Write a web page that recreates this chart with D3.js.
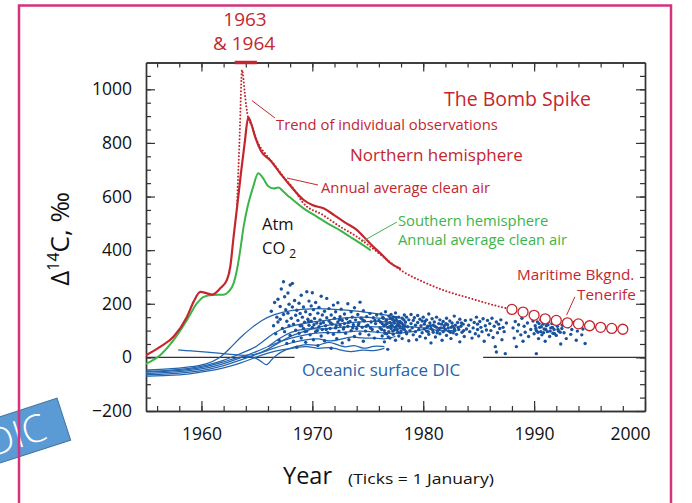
<!DOCTYPE html>
<html><head><meta charset="utf-8">
<script src="https://cdn.jsdelivr.net/npm/d3@7"></script>
<style>
html,body{margin:0;padding:0;background:#fff;}
svg{display:block;font-family:"Open Sans","Noto Sans",sans-serif;}
</style></head><body>
<svg id="chart" width="692" height="503"></svg>
<script>
// Δ14C of atmospheric CO2 and ocean surface DIC, 1955–2000

// Northern hemisphere, annual average clean air [year, Δ14C ‰]
const nhAnnual = [[1955,8],[1956.3,40],[1957.5,78],[1958.7,152],[1959.3,208],[1959.9,244],[1960.5,239],[1960.95,234],[1961.7,258],[1962.3,289],[1962.6,338],[1962.9,450],[1963.2,556],[1963.6,700],[1963.9,800],[1964.22,895],[1964.5,870],[1964.85,822],[1965.4,768],[1966.2,735],[1967.1,687],[1968,641],[1969.2,588],[1970,568],[1971,556],[1972,530],[1973,502],[1974,476],[1975,434],[1975.5,413],[1976.3,382],[1977,353],[1977.9,332]];

// Southern hemisphere, annual average clean air
const shAnnual = [[1955,-24],[1956.3,9],[1957.5,65],[1958.7,140],[1959.6,202],[1960.2,226],[1961,233],[1962,234],[1962.45,245],[1962.9,276],[1963.2,326],[1963.5,400],[1963.8,487],[1964.15,560],[1964.67,637],[1965.12,687],[1965.57,668],[1966.03,638],[1966.5,630],[1966.95,634],[1967.4,618],[1968,596],[1969.2,556],[1970.4,525],[1971.6,494],[1972.5,474],[1973.4,450],[1974.3,426],[1975.2,401]];

// Trend of individual observations (northern hemisphere)
const nhTrend = [[1963.2,560],[1963.45,830],[1963.66,1072],[1963.9,990],[1964.05,935],[1964.22,893],[1964.53,867],[1964.98,811],[1965.73,761],[1966.48,724],[1967.38,674],[1968.28,631],[1969.16,577],[1970.96,531],[1972.5,488],[1974.03,450],[1975.83,394],[1978.17,320],[1979.98,282],[1982.14,246],[1983.94,224],[1986.92,189],[1988,179]];

// Maritime background, Tenerife
const tenerifeYears = [1988,1989,1990,1991,1992,1993,1994,1995,1996,1997,1998];
const tenerifeValues = [179,169,157,144,138,129,125,118,112,108,105];

// Ocean surface DIC records (individual coral / site series)
const oceanLines = [
  [[1955,-47],[1957,-44],[1959,-36],[1960.5,-25],[1961.5,-8],[1962.5,30],[1963.5,75],[1964.5,110],[1965.5,140],[1966.5,160],[1968,176],[1970,183],[1972,180],[1974,174],[1976,162],[1977.8,150]],
  [[1957.9,28],[1959,24],[1960.5,20],[1962,14],[1963.5,6],[1965,10],[1966,30],[1967,55],[1968,80],[1969.5,100],[1971,118],[1972.5,126],[1974,132],[1975.5,136],[1977,131],[1978.5,124]],
  [[1955,-55],[1957,-52],[1959,-46],[1960.5,-34],[1962,-18],[1963,-2],[1964,6],[1964.8,2],[1965.5,-18],[1965.9,-34],[1966.3,-8],[1966.8,10],[1967.5,28],[1968.5,40],[1969.5,52],[1970.5,40],[1971.3,60],[1972,52],[1973,34],[1973.8,50],[1974.6,28],[1975.5,44],[1976.5,40]],
  [[1955,-60],[1957,-57],[1959,-50],[1960.5,-40],[1962,-24],[1963.5,-2],[1965,22],[1966.5,50],[1968,72],[1969.5,86],[1971,94],[1972.5,90],[1974,100],[1975.5,96],[1977,88],[1978.5,92],[1980,104]],
  [[1955,-65],[1957,-62],[1959,-56],[1960.5,-46],[1962,-32],[1963.5,-10],[1965,12],[1966.5,34],[1968,54],[1969.5,66],[1970.5,72],[1971.5,58],[1972.5,66],[1973.5,80],[1974.5,70],[1975.5,74],[1976.5,66],[1977.5,78]],
  [[1955,-52],[1957,-49],[1959,-42],[1960.5,-30],[1962,-12],[1963,5],[1964,22],[1965,40],[1966,75],[1967,104],[1968.5,122],[1970,132],[1971.5,140],[1973,148],[1974.5,152],[1976,146],[1977.5,140]],
  [[1955,-70],[1957,-68],[1959,-62],[1960.5,-52],[1962,-40],[1963.5,-22],[1964.5,-6],[1965.5,10],[1966.5,22],[1967.5,30],[1968.5,36],[1969.5,44],[1970.5,30],[1971.5,40],[1972.5,28],[1973.5,18],[1974.5,30],[1975.5,22],[1976.5,34]],
  [[1966,40],[1967,70],[1968,95],[1969.5,110],[1971,104],[1972.5,112],[1974,118],[1976,112],[1978,116],[1980,112],[1981.5,96],[1983,102]]
];

// Individual ocean surface DIC measurements [year, Δ14C ‰]
const oceanDots = [
  [1966.3,172],[1966.5,118],[1966.6,205],[1966.7,88],[1966.8,150],[1966.9,217],[1966.9,132],
  [1967.0,64],[1967.1,190],[1967.1,142],[1967.2,255],[1967.3,108],[1967.4,282],[1967.4,160],[1967.5,226],[1967.5,96],[1967.6,178],[1967.7,135],[1967.7,52],[1967.8,240],[1967.8,165],[1967.9,118],[1967.9,198],
  [1968.0,270],[1968.0,82],[1968.1,146],[1968.2,276],[1968.2,188],[1968.3,124],[1968.3,60],[1968.4,212],[1968.5,157],[1968.5,101],[1968.6,176],[1968.6,38],[1968.7,138],[1968.8,202],[1968.8,90],[1968.9,164],[1968.9,118],
  [1969.0,232],[1969.0,72],[1969.05,118],[1969.1,150],[1969.2,108],[1969.2,188],[1969.3,131],[1969.35,96],[1969.4,56],[1969.4,170],[1969.5,245],[1969.5,98],[1969.6,142],[1969.65,134],[1969.7,210],[1969.7,120],[1969.8,84],[1969.8,160],[1969.9,135],[1969.9,192],
  [1970.0,241],[1970.0,112],[1970.1,66],[1970.1,178],[1970.15,122],[1970.2,145],[1970.3,96],[1970.3,205],[1970.4,128],[1970.45,100],[1970.5,165],[1970.5,44],[1970.6,114],[1970.6,186],[1970.7,140],[1970.75,126],[1970.8,80],[1970.8,228],[1970.9,158],[1970.9,104],
  [1971.0,130],[1971.1,172],[1971.1,62],[1971.2,118],[1971.25,104],[1971.3,220],[1971.3,148],[1971.4,92],[1971.5,136],[1971.5,182],[1971.6,108],[1971.65,128],[1971.7,158],[1971.7,34],[1971.8,124],[1971.9,195],[1971.9,86],
  [1972.0,146],[1972.1,110],[1972.1,170],[1972.15,118],[1972.2,70],[1972.3,132],[1972.3,204],[1972.4,98],[1972.45,140],[1972.5,152],[1972.5,120],[1972.6,180],[1972.7,54],[1972.7,138],[1972.8,106],[1972.85,112],[1972.9,162],[1972.9,126],
  [1973.0,90],[1973.1,144],[1973.2,200],[1973.2,116],[1973.25,130],[1973.3,66],[1973.4,134],[1973.5,170],[1973.5,100],[1973.6,150],[1973.65,110],[1973.7,122],[1973.8,78],[1973.8,185],[1973.9,140],
  [1974.0,108],[1974.1,160],[1974.15,122],[1974.2,128],[1974.3,206],[1974.3,88],[1974.4,146],[1974.5,112],[1974.55,140],[1974.6,174],[1974.6,60],[1974.7,136],[1974.8,98],[1974.85,116],[1974.9,152],
  [1975.0,120],[1975.1,84],[1975.2,164],[1975.25,110],[1975.3,132],[1975.4,104],[1975.5,148],[1975.6,72],[1975.65,138],[1975.7,126],[1975.8,158],[1975.9,96],
  [1976.0,138],[1976.1,110],[1976.15,132],[1976.2,162],[1976.25,104],[1976.3,80],[1976.3,126],[1976.35,150],[1976.4,146],[1976.45,118],[1976.5,100],[1976.5,58],[1976.55,90],[1976.6,170],[1976.6,122],[1976.65,136],[1976.7,88],[1976.7,140],[1976.75,126],[1976.8,112],[1976.8,30],[1976.85,76],[1976.9,154],[1976.9,96],[1976.95,114],
  [1977.0,130],[1977.0,72],[1977.05,146],[1977.1,160],[1977.1,108],[1977.15,122],[1977.2,142],[1977.2,118],[1977.25,98],[1977.3,86],[1977.3,150],[1977.35,136],[1977.4,102],[1977.4,128],[1977.45,112],[1977.5,64],[1977.5,166],[1977.55,148],[1977.6,116],[1977.6,138],[1977.65,104],[1977.7,94],[1977.7,124],[1977.75,132],[1977.8,150],[1977.8,80],[1977.85,118],[1977.9,110],[1977.9,134],[1977.95,92],
  [1978.0,98],[1978.05,128],[1978.1,146],[1978.1,70],[1978.15,108],[1978.2,120],[1978.25,140],[1978.3,158],[1978.3,104],[1978.35,116],[1978.4,132],[1978.45,96],[1978.5,88],[1978.5,150],[1978.6,114],[1978.7,62],[1978.7,140],[1978.8,100],[1978.9,126],[1978.9,160],
  [1979.0,110],[1979.1,84],[1979.1,138],[1979.2,148],[1979.3,96],[1979.3,120],[1979.4,66],[1979.5,130],[1979.5,156],[1979.6,104],[1979.7,142],[1979.7,78],[1979.8,118],[1979.9,136],[1979.9,92],
  [1980.0,150],[1980.1,106],[1980.1,124],[1980.15,134],[1980.2,72],[1980.3,140],[1980.3,98],[1980.35,112],[1980.4,116],[1980.45,96],[1980.5,162],[1980.5,86],[1980.6,128],[1980.65,118],[1980.7,108],[1980.7,54],[1980.8,144],[1980.85,102],[1980.9,120],[1980.9,94],
  [1981.0,132],[1981.05,116],[1981.1,76],[1981.2,112],[1981.2,150],[1981.25,92],[1981.3,100],[1981.4,126],[1981.45,108],[1981.5,88],[1981.5,140],[1981.6,110],[1981.65,124],[1981.7,64],[1981.8,134],[1981.8,96],[1981.85,110],[1981.9,118],
  [1982.0,104],[1982.05,126],[1982.1,146],[1982.1,82],[1982.2,122],[1982.25,110],[1982.3,98],[1982.4,136],[1982.45,94],[1982.5,112],[1982.5,70],[1982.6,128],[1982.65,116],[1982.7,92],[1982.8,154],[1982.8,108],[1982.85,100],[1982.9,120],
  [1983.0,86],[1983.1,130],[1983.15,112],[1983.2,104],[1983.3,58],[1983.3,142],[1983.4,116],[1983.45,128],[1983.5,94],[1983.6,124],[1983.65,100],[1983.7,78],[1983.8,138],[1983.9,106],
  [1984.1,120],[1984.2,96],[1984.3,140],[1984.4,72],[1984.5,110],[1984.6,130],[1984.7,88],[1984.8,150],[1984.9,104],[1984.9,124],
  [1985.0,80],[1985.1,134],[1985.2,112],[1985.3,96],[1985.4,144],[1985.5,60],[1985.6,118],[1985.7,102],[1985.8,138],[1985.9,84],
  [1986.0,126],[1986.1,100],[1986.2,146],[1986.3,74],[1986.4,116],[1986.5,40],[1986.6,132],[1986.6,20],[1986.7,92],[1986.8,124],[1986.9,108],
  [1987.0,140],[1987.1,66],[1987.2,112],[1987.3,96],[1987.4,14],[1987.5,128],
  [1988.1,110],[1988.2,72],[1988.3,134],[1988.4,40],[1988.5,98],[1988.6,122],[1988.8,84],[1988.9,146],
  [1989.0,60],[1989.1,116],[1989.2,94],[1989.4,128],[1989.5,78],[1989.7,104],[1989.9,136],
  [1990.0,88],[1990.1,118],[1990.15,108],[1990.2,14],[1990.2,100],[1990.3,132],[1990.35,94],[1990.4,70],[1990.45,126],[1990.5,112],[1990.6,96],[1990.6,140],[1990.65,114],[1990.7,84],[1990.8,124],[1990.85,92],[1990.9,106],
  [1991.0,60],[1991.05,104],[1991.1,118],[1991.2,96],[1991.25,122],[1991.3,134],[1991.4,78],[1991.45,98],[1991.5,110],[1991.6,126],[1991.65,112],[1991.7,90],[1991.8,104],[1991.85,88],[1991.9,138],
  [1992.0,82],[1992.1,116],[1992.15,104],[1992.2,98],[1992.3,128],[1992.35,94],[1992.4,50],[1992.5,108],[1992.55,120],[1992.7,92],[1992.8,124],[1992.9,70],
  [1993.1,114],[1993.3,86],[1993.4,104],[1993.6,130],[1993.8,64],[1993.9,98],
  [1994.1,120],[1994.3,84],[1994.4,106],[1994.6,52]
];

// Axis ticks
const xMajorTicks = [1960, 1970, 1980, 1990, 2000];
const yMajorTicks = [-200, 0, 200, 400, 600, 800, 1000];

// Horizontal zero reference, drawn where the ocean data leave it clear
const zeroSegments = [[1955, 1968.4], [1985.4, 2000]];

const RED = "#c4262e", GREEN = "#3bb54a", BLUE = "#2364ad", DOTBLUE = "#1b529c", AXIS = "#333";

const svg = d3.select("#chart");
svg.append("rect").attr("width", 692).attr("height", 503).attr("fill", "#fff");

const x = d3.scaleLinear().domain([1955, 2000]).range([146, 645]);
const y = d3.scaleLinear().domain([-200, 1100]).range([411, 62.5]);

// Clip for data marks
svg.append("defs").append("clipPath").attr("id", "plotClip")
  .append("rect").attr("x", x(1955)).attr("y", y(1100))
  .attr("width", x(2000) - x(1955)).attr("height", y(-200) - y(1100));

// ---- DIC badge (behind the frame) ----
const badge = svg.append("g").attr("transform", "translate(16.3,434.6) rotate(-18)");
badge.append("rect").attr("x", -50).attr("y", -22).attr("width", 100).attr("height", 44)
  .attr("fill", "#5b9bd5").attr("stroke", "#41719c").attr("stroke-width", 1);
badge.append("text").attr("x", 0).attr("y", 0).attr("dy", "0.36em")
  .attr("text-anchor", "middle").attr("fill", "#fff").attr("font-size", 38).attr("font-weight", 300)
  .text("DIC");

// ---- page frame ----
svg.append("rect").attr("x", 19).attr("y", 5.5).attr("width", 652).attr("height", 540)
  .attr("fill", "none").attr("stroke", "#d5317d").attr("stroke-width", 2.5);

// ---- axes ----
function styleAxis(g) {
  g.selectAll("path.domain").attr("stroke", AXIS).attr("stroke-width", 1.4);
  g.selectAll(".tick line").attr("stroke", AXIS).attr("stroke-width", 1.2);
  g.selectAll(".tick text").attr("fill", "#111").attr("font-size", 17.5)
    .attr("font-family", '"Open Sans","Noto Sans",sans-serif');
}
const xMinor = d3.range(1956, 2000, 2);
const yMinor = d3.range(-150, 1100, 50);

// bottom
svg.append("g").attr("transform", `translate(0,${y(-200)})`)
  .call(d3.axisBottom(x).tickValues(xMinor).tickSize(-5).tickSizeOuter(0).tickFormat(""))
  .call(styleAxis);
const xb = svg.append("g").attr("transform", `translate(0,${y(-200)})`)
  .call(d3.axisBottom(x).tickValues(xMajorTicks).tickSize(-10).tickSizeOuter(0).tickPadding(17).tickFormat(d3.format("d")))
  .call(styleAxis);
xb.selectAll(".tick text").filter(d => d === 2000).attr("text-anchor", "end").attr("x", 5);
// top
svg.append("g").attr("transform", `translate(0,${y(1100)})`)
  .call(d3.axisTop(x).tickValues(xMinor).tickSize(-5).tickSizeOuter(0).tickFormat(""))
  .call(styleAxis);
svg.append("g").attr("transform", `translate(0,${y(1100)})`)
  .call(d3.axisTop(x).tickValues(xMajorTicks.filter(d => d < 2000)).tickSize(-9).tickSizeOuter(0).tickFormat(""))
  .call(styleAxis);
// left
svg.append("g").attr("transform", `translate(${x(1955)},0)`)
  .call(d3.axisLeft(y).tickValues(yMinor).tickSize(-5).tickSizeOuter(0).tickFormat(""))
  .call(styleAxis);
svg.append("g").attr("transform", `translate(${x(1955)},0)`)
  .call(d3.axisLeft(y).tickValues(yMajorTicks).tickSize(-9).tickSizeOuter(0).tickPadding(14).tickFormat(d3.format("d")))
  .call(styleAxis);
// right
svg.append("g").attr("transform", `translate(${x(2000)},0)`)
  .call(d3.axisRight(y).tickValues(yMinor).tickSize(-5).tickSizeOuter(0).tickFormat(""))
  .call(styleAxis);
svg.append("g").attr("transform", `translate(${x(2000)},0)`)
  .call(d3.axisRight(y).tickValues(yMajorTicks).tickSize(-9).tickSizeOuter(0).tickFormat(""))
  .call(styleAxis);

// zero line
svg.append("g").selectAll("line").data(zeroSegments).join("line")
  .attr("x1", d => x(d[0])).attr("x2", d => x(d[1]))
  .attr("y1", y(0)).attr("y2", y(0))
  .attr("stroke", "#333").attr("stroke-width", 1.1);

const plot = svg.append("g").attr("clip-path", "url(#plotClip)");

// ocean lines
const smooth = d3.line().x(d => x(d[0])).y(d => y(d[1])).curve(d3.curveBasis);
plot.append("g").selectAll("path").data(oceanLines).join("path")
  .attr("d", smooth).attr("fill", "none").attr("stroke", BLUE).attr("stroke-width", 1.25);

// ocean dots
plot.append("g").selectAll("circle").data(oceanDots).join("circle")
  .attr("cx", d => x(d[0])).attr("cy", d => y(d[1])).attr("r", 1.7).attr("fill", DOTBLUE);

const mono = d3.line().x(d => x(d[0])).y(d => y(d[1])).curve(d3.curveMonotoneX);

// southern hemisphere
plot.append("path").datum(shAnnual).attr("d", mono)
  .attr("fill", "none").attr("stroke", GREEN).attr("stroke-width", 2).attr("stroke-linecap", "round");

// trend of individual observations (dotted)
plot.append("path").datum(nhTrend).attr("d", mono)
  .attr("fill", "none").attr("stroke", RED).attr("stroke-width", 2)
  .attr("stroke-linecap", "round").attr("stroke-dasharray", "0.01 3.4");

// northern hemisphere
plot.append("path").datum(nhAnnual).attr("d", mono)
  .attr("fill", "none").attr("stroke", RED).attr("stroke-width", 2.2).attr("stroke-linecap", "round");

// Tenerife maritime background
plot.append("g").selectAll("circle").data(tenerifeYears).join("circle")
  .attr("cx", d => x(d)).attr("cy", (d, i) => y(tenerifeValues[i])).attr("r", 5)
  .attr("fill", "#fff").attr("stroke", RED).attr("stroke-width", 1.3);

// 1963 & 1964 marker on the top axis
svg.append("line").attr("x1", x(1963)).attr("x2", x(1965)).attr("y1", y(1100)).attr("y2", y(1100))
  .attr("stroke", RED).attr("stroke-width", 3.5);

// ---- leader lines (data coordinates) ----
const leaders = [
  {from: [1964.55, 958], to: [1966.63, 893], color: RED},
  {from: [1967.71, 669], to: [1970.51, 643], color: RED},
  {from: [1977.63, 505], to: [1974.39, 430], color: GREEN},
  {from: [1993.68, 226], to: [1992.93, 158], color: RED}
];
svg.append("g").selectAll("line").data(leaders).join("line")
  .attr("x1", d => x(d.from[0])).attr("y1", d => y(d.from[1]))
  .attr("x2", d => x(d.to[0])).attr("y2", d => y(d.to[1]))
  .attr("stroke", d => d.color).attr("stroke-width", 1);

// ---- labels ----
function label(t, px, py, size, color, anchor) {
  return svg.append("text").attr("x", px).attr("y", py).attr("font-size", size)
    .attr("fill", color).attr("text-anchor", anchor || "start").text(t);
}
label("1963", 245, 25.5, 19, RED, "middle");
label("& 1964", 244, 50, 19, RED, "middle");
label("The Bomb Spike", 444, 105.5, 19.5, RED);
label("Trend of individual observations", 276, 129.5, 14.8, RED);
label("Northern hemisphere", 350, 161, 17, RED);
label("Annual average clean air", 321, 192.5, 14.8, RED);
label("Southern hemisphere", 398, 226, 14.8, GREEN);
label("Annual average clean air", 398, 244.5, 14.8, GREEN);
label("Atm", 262, 230, 16.5, "#111");
const co2 = label("CO", 262, 253.5, 16.5, "#111");
co2.append("tspan").attr("dx", 4).attr("dy", 4).attr("font-size", 12).text("2");
label("Oceanic surface DIC", 302, 376, 17, BLUE);
label("Maritime Bkgnd.", 517, 279.5, 15.3, RED);
label("Tenerife", 577, 300, 15.3, RED);

// y axis title
const yt = svg.append("text").attr("transform", "translate(69,239) rotate(-90)")
  .attr("text-anchor", "middle").attr("font-size", 26).attr("fill", "#111");
yt.append("tspan").text("Δ");
yt.append("tspan").attr("font-size", 16).attr("dy", -10).text("14");
yt.append("tspan").attr("dy", 10).text("C, ‰");

// x axis title
label("Year", 283, 484, 23.5, "#111");
svg.append("text").attr("x", 348).attr("y", 484).attr("font-size", 15)
  .attr("textLength", 146).attr("lengthAdjust", "spacingAndGlyphs").attr("fill", "#111")
  .text("(Ticks = 1 January)");
</script></body></html>
